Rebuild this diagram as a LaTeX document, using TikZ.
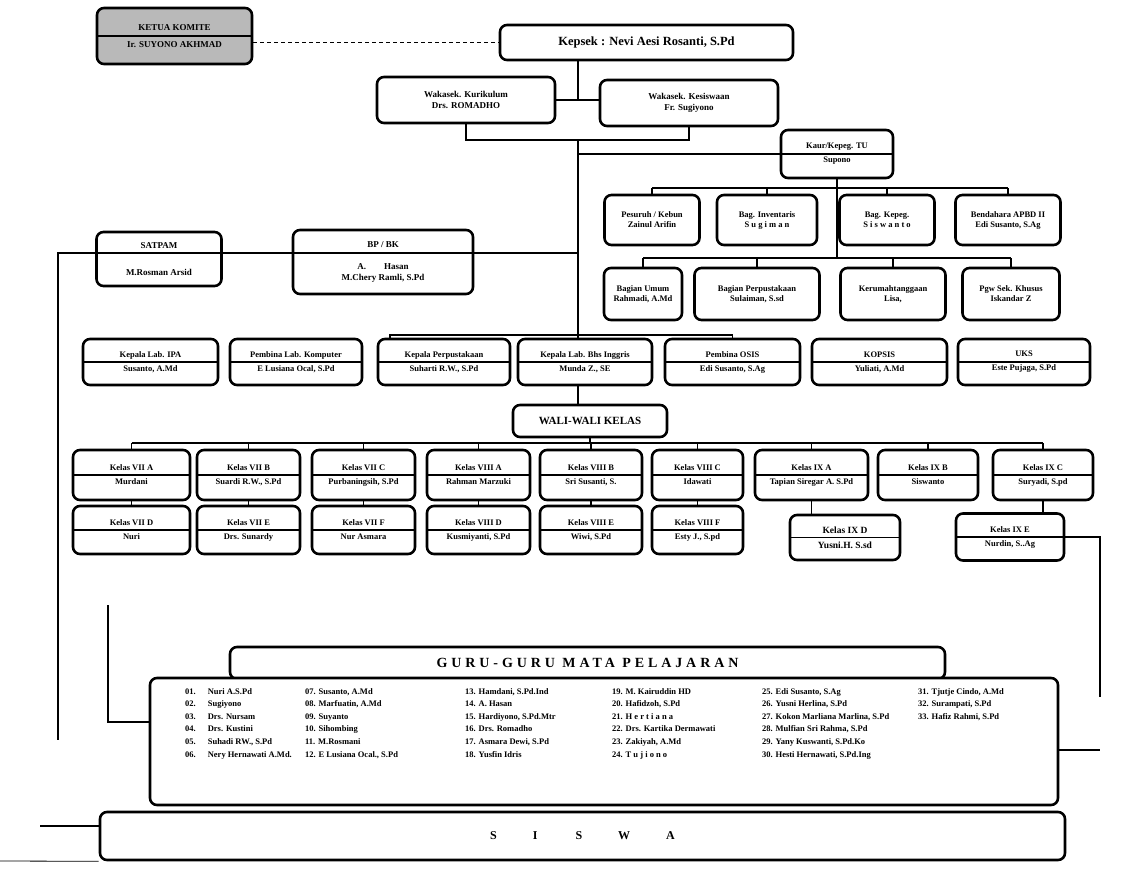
\documentclass[tikz,border=0pt]{standalone}
\usepackage{fontspec}
\setmainfont{Liberation Serif}
\newfontfamily\hurufjarang[LetterSpace=28]{Liberation Serif}
\usepackage{tikz}
\usetikzlibrary{positioning}
\tikzstyle{kotak} = [draw, line width=2.6pt, rounded corners=7pt, fill=white, align=center, inner sep=2pt, font=\bfseries\fontsize{8.5}{10}\selectfont]
\tikzstyle{garis} = [draw, line width=1.1pt]
\tikzstyle{daftar} = [anchor=north west, inner sep=0pt, align=left, font=\bfseries\fontsize{8.5}{12.6}\selectfont]
\tikzset{ukuran/.style 2 args={minimum width=#1pt, minimum height=#2pt},
  belah/.style={path picture={\draw[line width=1.1pt] ([yshift=#1]path picture bounding box.west) -- ([yshift=#1]path picture bounding box.east);}},
  belah/.default=0pt}

\begin{document}
\begin{tikzpicture}[x=1pt,y=-1pt]
      \useasboundingbox (0,0) rectangle (1134,874);

      % pimpinan
      \node[kotak, belah, fill=gray!55, ukuran={155}{56}, font=\bfseries\fontsize{9}{10.5}\selectfont] (ketua) at (174.5,36) {KETUA KOMITE\\[6pt]Ir. SUYONO AKHMAD};
      \node[kotak, ukuran={293}{35}, font=\bfseries\fontsize{12.5}{14}\selectfont] (kepsek) at (646.5,42.5) {Kepsek : Nevi Aesi Rosanti, S.Pd};
      \node[kotak, ukuran={178}{46}, font=\bfseries\fontsize{9}{11}\selectfont] (waka1) at (466,100) {Wakasek. Kurikulum\\Drs. ROMADHO};
      \node[kotak, ukuran={178}{46}, font=\bfseries\fontsize{9}{11}\selectfont] (waka2) at (689,103) {Wakasek. Kesiswaan\\Fr. Sugiyono};
      \node[kotak, belah, ukuran={112}{48}] (kaurtu) at (837,154) {Kaur/Kepeg. TU\\[4pt]Supono};

      % tata usaha
      \node[kotak, ukuran={95}{50}] (pesuruh) at (652,220) {Pesuruh / Kebun\\Zainul Arifin};
      \node[kotak, ukuran={100}{50}] (inventaris) at (767,220) {Bag. Inventaris\\S u g i m a n};
      \node[kotak, ukuran={95}{50}] (kepeg) at (887,220) {Bag. Kepeg.\\S i s w a n t o};
      \node[kotak, ukuran={105}{50}] (bendahara) at (1008,220) {Bendahara APBD II\\Edi Susanto, S.Ag};
      \node[kotak, ukuran={78}{52}] (umum) at (643,294) {Bagian Umum\\Rahmadi, A.Md};
      \node[kotak, ukuran={125}{52}] (perpusTU) at (757,294) {Bagian Perpustakaan\\Sulaiman, S.sd};
      \node[kotak, ukuran={105}{52}] (rumah) at (893,294) {Kerumahtanggaan\\Lisa,};
      \node[kotak, ukuran={97}{52}] (khusus) at (1011,294) {Pgw Sek. Khusus\\Iskandar Z};

      % satpam dan bp/bk
      \node[kotak, belah=6pt, ukuran={125}{54}, font=\bfseries\fontsize{9}{11}\selectfont] (satpam) at (159,259) {SATPAM\\[16pt]M.Rosman Arsid};
      \node[kotak, belah=9pt, ukuran={180}{64}, font=\bfseries\fontsize{9}{10.5}\selectfont] (bpbk) at (383,262) {BP / BK\\[12pt]A.\hspace{18pt}Hasan\\M.Chery Ramli, S.Pd};

      % pembina
      \node[kotak, belah, ukuran={135}{46}] (ipa) at (150.5,362) {Kepala Lab. IPA\\[4pt]Susanto, A.Md};
      \node[kotak, belah, ukuran={132}{46}] (komputer) at (296,362) {Pembina Lab. Komputer\\[4pt]E Lusiana Ocal, S.Pd};
      \node[kotak, belah, ukuran={132}{46}] (perpus) at (444,362) {Kepala Perpustakaan\\[4pt]Suharti R.W., S.Pd};
      \node[kotak, belah, ukuran={134}{46}] (inggris) at (585,362) {Kepala Lab. Bhs Inggris\\[4pt]Munda Z., SE};
      \node[kotak, belah, ukuran={135}{46}] (osis) at (732.5,362) {Pembina OSIS\\[4pt]Edi Susanto, S.Ag};
      \node[kotak, belah, ukuran={135}{46}] (kopsis) at (879.5,362) {KOPSIS\\[4pt]Yuliati, A.Md};
      \node[kotak, belah, ukuran={132}{46}] (uks) at (1024,362) {UKS\\[4pt]Este Pujaga, S.Pd};

      \node[kotak, ukuran={154}{32}, font=\bfseries\fontsize{11}{13}\selectfont] (wali) at (590,421) {WALI-WALI KELAS};

      % kelas atas
      \node[kotak, belah, ukuran={117}{50}] (k7a) at (131.5,475) {Kelas VII A\\[4pt]Murdani};
      \node[kotak, belah, ukuran={103}{50}] (k7b) at (248.5,475) {Kelas VII B\\[4pt]Suardi R.W., S.Pd};
      \node[kotak, belah, ukuran={103}{50}] (k7c) at (363.5,475) {Kelas VII C\\[4pt]Purbaningsih, S.Pd};
      \node[kotak, belah, ukuran={103}{50}] (k8a) at (478.5,475) {Kelas VIII A\\[4pt]Rahman Marzuki};
      \node[kotak, belah, ukuran={102}{50}] (k8b) at (591,475) {Kelas VIII B\\[4pt]Sri Susanti, S.};
      \node[kotak, belah, ukuran={91}{50}] (k8c) at (697.5,475) {Kelas VIII C\\[4pt]Idawati};
      \node[kotak, belah, ukuran={113}{50}] (k9a) at (811.5,475) {Kelas IX A\\[4pt]Tapian Siregar A. S.Pd};
      \node[kotak, belah, ukuran={100}{50}] (k9b) at (928,475) {Kelas IX B\\[4pt]Siswanto};
      \node[kotak, belah, ukuran={100}{50}] (k9c) at (1043,475) {Kelas IX C\\[4pt]Suryadi, S.pd};

      % kelas bawah
      \node[kotak, belah, ukuran={117}{48}] (k7d) at (131.5,530) {Kelas VII D\\[4pt]Nuri};
      \node[kotak, belah, ukuran={103}{48}] (k7e) at (248.5,530) {Kelas VII E\\[4pt]Drs. Sunardy};
      \node[kotak, belah, ukuran={103}{48}] (k7f) at (363.5,530) {Kelas VII F\\[4pt]Nur Asmara};
      \node[kotak, belah, ukuran={103}{48}] (k8d) at (478.5,530) {Kelas VIII D\\[4pt]Kusmiyanti, S.Pd};
      \node[kotak, belah, ukuran={102}{48}] (k8e) at (591,530) {Kelas VIII E\\[4pt]Wiwi, S.Pd};
      \node[kotak, belah, ukuran={91}{48}] (k8f) at (697.5,530) {Kelas VIII F\\[4pt]Esty J., S.pd};
      \node[kotak, belah, ukuran={110}{45}, font=\bfseries\fontsize{9.5}{11}\selectfont] (k9d) at (845,537.5) {Kelas IX D\\[4pt]Yusni.H. S.sd};
      \node[kotak, belah, ukuran={108}{47}] (k9e) at (1010,537) {Kelas IX E\\[4pt]Nurdin, S..Ag};

      % guru dan siswa
      \node[kotak, ukuran={715}{32}, font=\hurufjarang\bfseries\fontsize{14}{16}\selectfont] (judulguru) at (587.5,663) {GURU-GURU MATA PELAJARAN};
      \node[kotak, ukuran={908}{127}] (guru) at (604,741.5) {};
      \node[kotak, ukuran={965}{48}, font=\bfseries\fontsize{12}{14}\selectfont] (siswa) at (582.5,836) {S\hspace{36pt}I\hspace{38pt}S\hspace{36pt}W\hspace{36pt}A};

      \node[daftar] (kol1) at (185,688) {01.\hspace{12pt}Nuri A.S.Pd\\02.\hspace{12pt}Sugiyono\\03.\hspace{12pt}Drs. Nursam\\04.\hspace{12pt}Drs. Kustini\\05.\hspace{12pt}Suhadi RW., S.Pd\\06.\hspace{12pt}Nery Hernawati A.Md.};
      \node[daftar] (kol2) at (305,688) {07. Susanto, A.Md\\08. Marfuatin, A.Md\\09. Suyanto\\10. Sihombing\\11. M.Rosmani\\12. E Lusiana Ocal., S.Pd};
      \node[daftar] (kol3) at (465,688) {13. Hamdani, S.Pd.Ind\\14. A. Hasan\\15. Hardiyono, S.Pd.Mtr\\16. Drs. Romadho\\17. Asmara Dewi, S.Pd\\18. Yusfin Idris};
      \node[daftar] (kol4) at (612,688) {19. M. Kairuddin HD\\20. Hafidzoh, S.Pd\\21. H e r t i a n a\\22. Drs. Kartika Dermawati\\23. Zakiyah, A.Md\\24. T u j i o n o};
      \node[daftar] (kol5) at (762,688) {25. Edi Susanto, S.Ag\\26. Yusni Herlina, S.Pd\\27. Kokon Marliana Marlina, S.Pd\\28. Mulfian Sri Rahma, S.Pd\\29. Yany Kuswanti, S.Pd.Ko\\30. Hesti Hernawati, S.Pd.Ing};
      \node[daftar] (kol6) at (918,688) {31. Tjutje Cindo, A.Md\\32. Surampati, S.Pd\\33. Hafiz Rahmi, S.Pd};

      % titik bantu
      \coordinate (batang) at (578,140);
      \coordinate (bar1) at (0,188);
      \coordinate (bar2) at (0,258);
      \coordinate (bar3) at (390,335);
      \coordinate (bar4) at (0,443);
      \coordinate (kiri) at (58,253);
      \coordinate (kiribawah) at (58,740);
      \coordinate (kiri2) at (108,605);
      \coordinate (kiri3) at (108,722);
      \coordinate (kiri4) at (40,826);
      \coordinate (kanan) at (1100,697);
      \coordinate (kanan2) at (1100,750);

      % garis pimpinan
      \draw[garis, dashed, dash pattern=on 4pt off 3pt] (kepsek.west -| ketua.east) -- (kepsek.west);
      \draw[garis] (batang |- kepsek.south) -- (batang |- waka1.east);
      \draw[garis] (waka1.east) -- (waka1.east -| waka2.west);
      \draw[garis] (waka1.south) |- (batang) -| (waka2.south);
      \draw[garis] (batang) -- (batang |- inggris.north);
      \draw[garis] (batang |- kaurtu.west) -- (kaurtu.west);

      % garis tata usaha
      \draw[garis] (kaurtu.south) -- (kaurtu.south |- bar2);
      \draw[garis] (pesuruh.north |- bar1) -- (bendahara.north |- bar1);
      \draw[garis] (umum.north |- bar2) -- (khusus.north |- bar2);
      \foreach \n in {pesuruh,inventaris,kepeg,bendahara}
        \draw[garis] (\n.north) -- (\n.north |- bar1);
      \foreach \n in {umum,perpusTU,rumah,khusus}
        \draw[garis] (\n.north) -- (\n.north |- bar2);

      % satpam, bp/bk
      \draw[garis] (bpbk.east |- kiri) -- (batang |- kiri);
      \draw[garis] (satpam.east |- kiri) -- (bpbk.west |- kiri);
      \draw[garis] (satpam.west |- kiri) -- (kiri) -- (kiribawah);

      % pembina
      \draw[garis] (bar3 |- perpus.north) -- (bar3) -- (osis.north |- bar3) -- (osis.north);
      \draw[garis] (batang |- inggris.south) -- (batang |- wali.north);

      % wali kelas
      \draw[garis] (wali.south) -- (wali.south |- bar4);
      \draw[garis] (k7a.north |- bar4) -- (k9c.north |- bar4);
      \foreach \n in {k7a,k7b,k7c,k8a,k8b,k8c,k9a,k9b,k9c}
        \draw[garis] (\n.north) -- (\n.north |- bar4);
      \foreach \a/\b in {k7a/k7d,k7b/k7e,k7c/k7f,k8a/k8d,k8b/k8e,k8c/k8f}
        \draw[garis] (\a.south) -- (\b.north);
      \draw[garis] (k9a.south) -- (k9a.south |- k9d.north);
      \draw[garis] (k9c.south) -- (k9c.south |- k9e.north);
      \draw[garis] (k9e.east) -| (kanan);

      % guru, siswa
      \draw[garis] (kiri2) -- (kiri3) -- (guru.west |- kiri3);
      \draw[garis] (guru.east |- kanan2) -- (kanan2);
      \draw[garis] (kiri4) -- (siswa.west |- kiri4);
      \draw[line width=0.8pt] (0,861) -- (siswa.south west);
\end{tikzpicture}
\end{document}
